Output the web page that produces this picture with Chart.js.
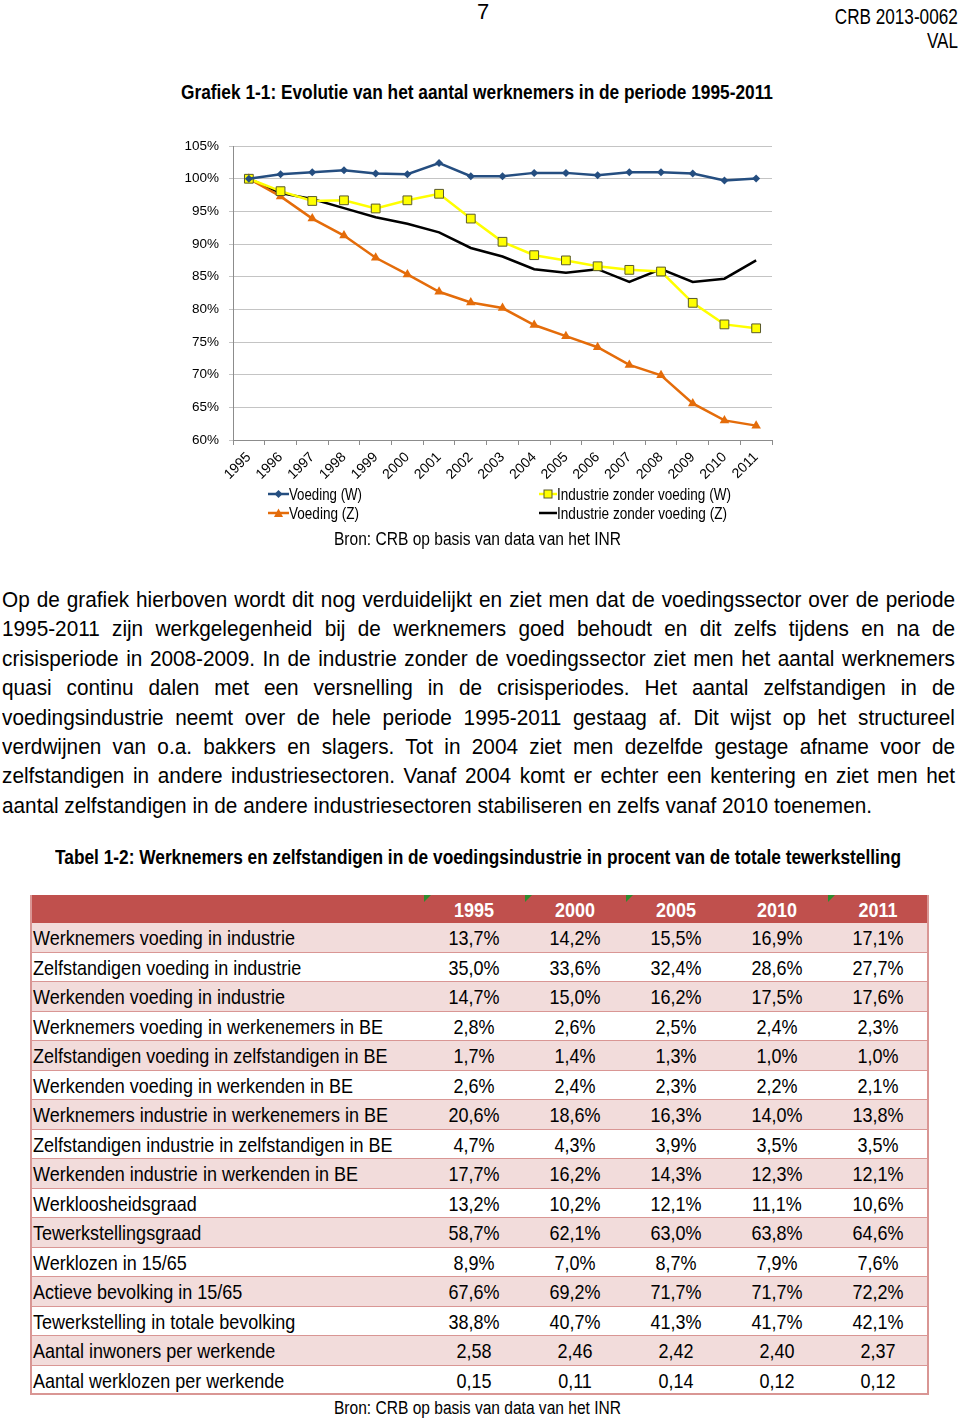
<!DOCTYPE html>
<html><head><meta charset="utf-8">
<script src="https://cdn.jsdelivr.net/npm/chart.js@4.4.1/dist/chart.umd.min.js"></script>
<style>
html,body{margin:0;padding:0;background:#fff;}
body{width:960px;height:1422px;position:relative;overflow:hidden;font-family:"Liberation Sans",Arial,sans-serif;color:#000;}
.abs{position:absolute;white-space:nowrap;line-height:1;}
#chartBox{position:absolute;left:160px;top:128px;width:620px;height:362px;}
.sw{position:absolute;}
.pline{position:absolute;left:2px;font-size:22.5px;line-height:1;white-space:nowrap;text-align:justify;text-align-last:justify;transform-origin:left center;}
#tbl{position:absolute;left:30px;top:895px;width:899px;height:500px;}
.hrow{position:absolute;left:0;width:899px;height:28px;background:#c0504d;}
.row{position:absolute;left:0;width:899px;box-sizing:border-box;border-bottom:1.5px solid #d99694;}
.row.odd{background:#f2dcdb;}
.row.even{background:#fff;}
.tframe{position:absolute;left:0;top:0;width:899px;height:500px;box-sizing:border-box;border:2px solid #d99694;border-top:none;pointer-events:none;}
.cell{position:absolute;top:50%;white-space:nowrap;line-height:1;font-size:21px;}
.tri{position:absolute;top:0;width:0;height:0;border-top:7px solid #2e8b2e;border-right:7px solid transparent;}
</style>
</head><body>
<div class="abs" id="pgnum" style="left:477px;top:1px;font-size:22px;">7</div>
<div class="abs" id="ref1" style="right:2px;top:6px;font-size:22px;">CRB 2013-0062</div>
<div class="abs" id="ref2" style="right:2px;top:30px;font-size:22px;">VAL</div>
<div class="abs" id="title" style="left:181px;top:83px;font-size:19.5px;font-weight:bold;">Grafiek 1-1: Evolutie van het aantal werknemers in de periode 1995-2011</div>

<div id="chartBox"><canvas id="c" width="620" height="362"></canvas></div>

<svg class="sw" style="left:268px;top:488px;" width="21" height="12"><line x1="0" y1="6" x2="21" y2="6" stroke="#254e80" stroke-width="2.5"/><polygon points="10.5,2 14.5,6 10.5,10 6.5,6" fill="#254e80"/></svg>
<div class="abs" id="lg1" style="left:289px;top:486px;font-size:16.5px;">Voeding (W)</div>
<svg class="sw" style="left:268px;top:507px;" width="21" height="12"><line x1="0" y1="6" x2="21" y2="6" stroke="#e46c0a" stroke-width="2.5"/><polygon points="10.5,1.5 15,10 6,10" fill="#e46c0a"/></svg>
<div class="abs" id="lg2" style="left:289px;top:505px;font-size:16.5px;">Voeding (Z)</div>
<svg class="sw" style="left:539px;top:488px;" width="18" height="12"><line x1="0" y1="6" x2="18" y2="6" stroke="#ffff00" stroke-width="2.5"/><rect x="5" y="2" width="8" height="8" fill="#ffff00" stroke="#5a5a2a" stroke-width="1"/></svg>
<div class="abs" id="lg3" style="left:557px;top:486px;font-size:16.5px;">Industrie zonder voeding (W)</div>
<svg class="sw" style="left:539px;top:507px;" width="18" height="12"><line x1="0" y1="6" x2="18" y2="6" stroke="#000" stroke-width="2.5"/></svg>
<div class="abs" id="lg4" style="left:557px;top:505px;font-size:16.5px;">Industrie zonder voeding (Z)</div>
<div class="abs" id="bron1" style="left:334px;top:530px;font-size:18px;">Bron: CRB op basis van data van het INR</div>

<div id="para"></div>

<div class="abs" id="ttitle" style="left:55px;top:848px;font-size:19.5px;font-weight:bold;">Tabel 1-2: Werknemers en zelfstandigen in de voedingsindustrie in procent van de totale tewerkstelling</div>
<div id="tbl"></div>
<div class="abs" id="bron2" style="left:334px;top:1399px;font-size:18px;">Bron: CRB op basis van data van het INR</div>

<script>
// ---- chart data ----
const years = ['1995','1996','1997','1998','1999','2000','2001','2002','2003','2004','2005','2006','2007','2008','2009','2010','2011'];
const voedingW = [100,100.7,101.0,101.3,100.8,100.7,102.4,100.4,100.4,100.9,100.9,100.55,101.0,101.0,100.8,99.75,100.05];
const industrieW = [100,98.1,96.6,96.7,95.45,96.7,97.7,93.9,90.35,88.3,87.5,86.6,86.05,85.8,81.0,77.7,77.1];
const voedingZ = [100,97.3,93.9,91.3,87.9,85.35,82.7,81.05,80.2,77.6,75.9,74.2,71.5,69.9,65.6,63.0,62.2];
const industrieZ = [100,97.8,96.9,95.5,94.1,93.1,91.8,89.4,88.1,86.15,85.6,86.15,84.2,86.15,84.2,84.7,87.5];
const yMin = 60, yMax = 105, yStep = 5;

// ---- table data ----
const tableYears = ['1995','2000','2005','2010','2011'];
const tableHeaderMarks = [true,true,true,false,true];
const rowLabels = [
 'Werknemers voeding in industrie',
 'Zelfstandigen voeding in industrie',
 'Werkenden voeding in industrie',
 'Werknemers voeding in werkenemers in BE',
 'Zelfstandigen voeding  in zelfstandigen in BE',
 'Werkenden voeding  in werkenden in BE',
 'Werknemers industrie in werkenemers in BE',
 'Zelfstandigen industrie  in zelfstandigen in BE',
 'Werkenden industrie  in werkenden in BE',
 'Werkloosheidsgraad',
 'Tewerkstellingsgraad',
 'Werklozen in 15/65',
 'Actieve bevolking in 15/65',
 'Tewerkstelling in totale bevolking',
 'Aantal inwoners per werkende',
 'Aantal werklozen per werkende'
];
const row01 = ['13,7%','14,2%','15,5%','16,9%','17,1%'];
const row02 = ['35,0%','33,6%','32,4%','28,6%','27,7%'];
const row03 = ['14,7%','15,0%','16,2%','17,5%','17,6%'];
const row04 = ['2,8%','2,6%','2,5%','2,4%','2,3%'];
const row05 = ['1,7%','1,4%','1,3%','1,0%','1,0%'];
const row06 = ['2,6%','2,4%','2,3%','2,2%','2,1%'];
const row07 = ['20,6%','18,6%','16,3%','14,0%','13,8%'];
const row08 = ['4,7%','4,3%','3,9%','3,5%','3,5%'];
const row09 = ['17,7%','16,2%','14,3%','12,3%','12,1%'];
const row10 = ['13,2%','10,2%','12,1%','11,1%','10,6%'];
const row11 = ['58,7%','62,1%','63,0%','63,8%','64,6%'];
const row12 = ['8,9%','7,0%','8,7%','7,9%','7,6%'];
const row13 = ['67,6%','69,2%','71,7%','71,7%','72,2%'];
const row14 = ['38,8%','40,7%','41,3%','41,7%','42,1%'];
const row15 = ['2,58','2,46','2,42','2,40','2,37'];
const row16 = ['0,15','0,11','0,14','0,12','0,12'];
const rowValues = [row01,row02,row03,row04,row05,row06,row07,row08,row09,row10,row11,row12,row13,row14,row15,row16];

// ---- paragraph ----
const paraLines = [
 'Op de grafiek hierboven wordt dit nog verduidelijkt en ziet men dat de voedingssector over de periode',
 '1995-2011 zijn werkgelegenheid bij de werknemers goed behoudt en dit zelfs tijdens en na de',
 'crisisperiode in 2008-2009. In de industrie zonder de voedingssector ziet men het aantal werknemers',
 'quasi continu dalen met een versnelling in de crisisperiodes. Het aantal zelfstandigen in de',
 'voedingsindustrie neemt over de hele periode 1995-2011 gestaag af. Dit wijst op het structureel',
 'verdwijnen van o.a. bakkers en slagers. Tot in 2004 ziet men dezelfde gestage afname voor de',
 'zelfstandigen in andere industriesectoren. Vanaf 2004 komt er echter een kentering en ziet men het',
 'aantal zelfstandigen in de andere industriesectoren stabiliseren en zelfs vanaf 2010 toenemen.'
];

function natW(el){ return el.getBoundingClientRect().width; }
function fitW(el, w, origin){
  el.style.transformOrigin = origin || 'left center';
  el.style.transform = 'scaleX(' + (w / natW(el)) + ')';
}
fitW(document.getElementById('ref1'), 123, 'right center');
fitW(document.getElementById('ref2'), 31, 'right center');
fitW(document.getElementById('title'), 592);
fitW(document.getElementById('lg1'), 73);
fitW(document.getElementById('lg2'), 70);
fitW(document.getElementById('lg3'), 174);
fitW(document.getElementById('lg4'), 170);
fitW(document.getElementById('bron1'), 287);
fitW(document.getElementById('bron2'), 287);
fitW(document.getElementById('ttitle'), 846);

// paragraph (narrow look, justified lines)
const para = document.getElementById('para');
const lineEls = paraLines.map((t,i)=>{
  const d = document.createElement('div');
  d.className = 'pline';
  d.style.top = (589 + i*29.4) + 'px';
  d.textContent = t;
  para.appendChild(d);
  return d;
});
const lastEl = lineEls[lineEls.length-1];
lastEl.style.textAlignLast = 'left';
const pScale = 870 / natW(lastEl);
lineEls.forEach((d,i)=>{
  if (i < lineEls.length-1) d.style.width = (953 / pScale) + 'px';
  d.style.transform = 'scaleX(' + pScale + ')';
});

// table
const tbl = document.getElementById('tbl');
const colCenters = [444,545,646,747,848];
const hdr = document.createElement('div'); hdr.className='hrow'; hdr.style.top='0px'; tbl.appendChild(hdr);
const cellEls = [];
tableYears.forEach((y,i)=>{
  const c = document.createElement('div'); c.className='cell'; c.textContent=y;
  c.style.color='#fff'; c.style.fontWeight='bold'; c.style.left=colCenters[i]+'px';
  hdr.appendChild(c); cellEls.push([c,'c']);
  if (tableHeaderMarks[i]) { const t=document.createElement('div'); t.className='tri'; t.style.left=(colCenters[i]-50)+'px'; hdr.appendChild(t); }
});
const rowH = 29.5;
rowLabels.forEach((lab,r)=>{
  const row = document.createElement('div');
  row.className = 'row ' + (r%2===0 ? 'odd' : 'even');
  row.style.top = (28 + r*rowH) + 'px';
  row.style.height = rowH + 'px';
  const l = document.createElement('div'); l.className='cell'; l.textContent=lab; l.style.left='3px'; row.appendChild(l); cellEls.push([l,'l']);
  rowValues[r].forEach((v,i)=>{ const c=document.createElement('div'); c.className='cell'; c.textContent=v; c.style.left=colCenters[i]+'px'; row.appendChild(c); cellEls.push([c,'c']); });
  tbl.appendChild(row);
});
const fr = document.createElement('div'); fr.className='tframe'; tbl.appendChild(fr);
const tScale = 262 / natW(cellEls[5][0]);
cellEls.forEach(([el,kind])=>{
  el.style.transformOrigin='left center';
  if (kind==='l') el.style.transform='translateY(-50%) scaleX('+tScale+')';
  else el.style.transform='translateY(-50%) scaleX('+tScale+') translateX(-50%)';
});

const FONT = '"Liberation Sans", Arial, sans-serif';
new Chart(document.getElementById('c'), {
  type:'line',
  data:{
    labels: years,
    datasets:[
      {label:'Voeding (W)', data:voedingW, borderColor:'#254e80', backgroundColor:'#254e80', borderWidth:2.5, pointStyle:'rectRot', pointRadius:4, pointBorderWidth:0, tension:0},
      {label:'Industrie zonder voeding (W)', data:industrieW, borderColor:'#ffff00', backgroundColor:'#ffff00', borderWidth:2.5, pointStyle:'rect', pointRadius:6.2, pointBorderColor:'#5a5a2a', pointBorderWidth:1, tension:0},
      {label:'Voeding (Z)', data:voedingZ, borderColor:'#e46c0a', backgroundColor:'#e46c0a', borderWidth:2.5, pointStyle:'triangle', pointRadius:5.5, pointBorderWidth:0, tension:0},
      {label:'Industrie zonder voeding (Z)', data:industrieZ, borderColor:'#000000', backgroundColor:'#000000', borderWidth:2.5, pointRadius:0, tension:0}
    ]
  },
  options:{
    responsive:false, animation:false,
    layout:{padding:{top:15,right:8,left:0,bottom:0}},
    plugins:{legend:{display:false}, tooltip:{enabled:false}},
    scales:{
      x:{
        offset:true,
        grid:{offset:true, drawOnChartArea:false, color:'#8c8c8c', tickLength:5},
        border:{color:'#8c8c8c'},
        ticks:{minRotation:45, maxRotation:45, autoSkip:false, color:'#000', padding:4, font:{family:FONT, size:14}},
        afterFit(s){ s.height = 50; }
      },
      y:{
        min:yMin, max:yMax,
        ticks:{stepSize:yStep, color:'#000', padding:10, font:{family:FONT, size:13.5}, callback:v=>v+'%'},
        grid:{color:'#c4c4c4', tickLength:4},
        border:{color:'#8c8c8c'},
        afterFit(s){ s.width = 73; }
      }
    }
  }
});
</script>
</body></html>
